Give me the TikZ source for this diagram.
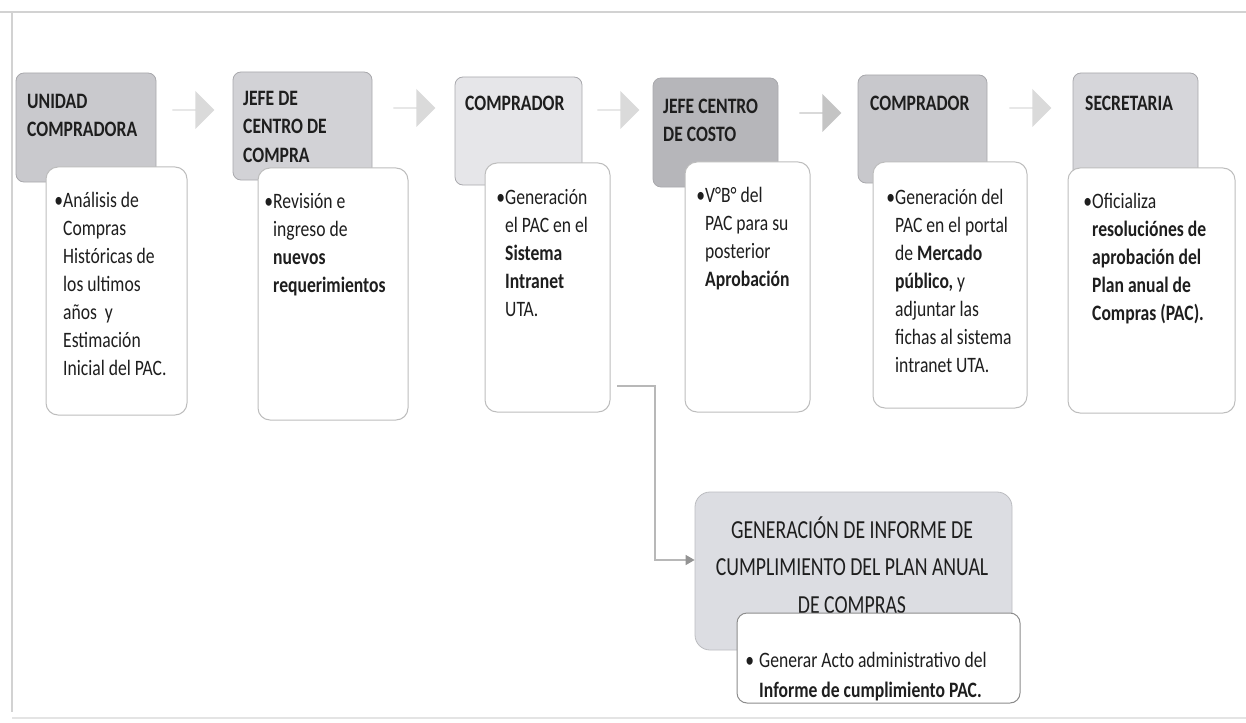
\documentclass[tikz,border=0pt]{standalone}
\usepackage{fontspec}
\setmainfont{Carlito}[FakeStretch=0.8]
\newfontfamily\titlefont{Carlito}[FakeStretch=0.76]
\usetikzlibrary{shapes.arrows,arrows.meta}
\definecolor{txtc}{HTML}{1E1E1E}
\definecolor{hA}{HTML}{C9C9CD}
\definecolor{hB}{HTML}{D2D2D6}
\definecolor{hC}{HTML}{E6E6E9}
\definecolor{hD}{HTML}{B6B6BA}
\definecolor{hE}{HTML}{C8C8CC}
\definecolor{hF}{HTML}{D6D6DA}
\definecolor{hbord}{HTML}{A8A8AC}
\definecolor{tbord}{HTML}{BDBDBD}
\definecolor{arrA}{HTML}{DADADA}
\definecolor{arrB}{HTML}{C4C4C4}
\definecolor{gfill}{HTML}{DCDDE2}
\definecolor{wbord}{HTML}{8C8C8C}
\definecolor{connc}{HTML}{B8B8B8}
\definecolor{framec}{HTML}{D2D2D2}
\newcommand\mystrut{\rule{0pt}{19pt}}
\newcommand\tstrut{\rule{0pt}{24pt}}
\tikzset{
  hdr/.style={draw=hbord, line width=0.8pt, rounded corners=8pt, inner sep=0pt},
  tbox/.style={draw=tbord, line width=1pt, fill=white, rounded corners=12pt, inner sep=0pt},
  txt/.style={anchor=north west, inner sep=0pt, align=left, text=txtc,
    font=\fontsize{22}{28}\selectfont},
  hdrtxt/.style={txt, font=\fontsize{22}{28.5}\selectfont\bfseries},
  barrow/.style={single arrow, draw=none, inner sep=0pt, minimum width=38pt,
    minimum height=42pt, single arrow head extend=7pt},
  conn/.style={draw=connc, line width=1.5pt, -{Triangle[length=9pt,width=10pt,fill=connc!80!black,color=connc!80!black]}},
  frameline/.style={draw=framec, line width=1.2pt}
}
\begin{document}
\begin{tikzpicture}[x=1pt,y=-1pt]
\useasboundingbox (0,0) rectangle (1246,722);
% frame
\draw[frameline] (0,12) -- (1246,12);
\draw[frameline] (12,12) -- (12,712);
\draw[frameline, draw=framec!60] (12,718) -- (1246,718);

% header boxes
\node[hdr, fill=hA, minimum width=140pt, minimum height=109pt] (h1) at (86,127.5) {};
\node[hdr, fill=hB, minimum width=139pt, minimum height=108pt] (h2) at (302.5,126) {};
\node[hdr, fill=hC, minimum width=127pt, minimum height=108pt] (h3) at (518.5,131) {};
\node[hdr, fill=hD, minimum width=125pt, minimum height=109pt] (h4) at (715.5,132.5) {};
\node[hdr, fill=hE, minimum width=129pt, minimum height=108pt] (h5) at (922.5,129) {};
\node[hdr, fill=hF, minimum width=125pt, minimum height=107pt] (h6) at (1135.5,126.5) {};

% header labels
\node[hdrtxt] (h1l) at (27,89) {\mystrut UNIDAD\\COMPRADORA};
\node[hdrtxt] (h2l) at (243,86) {\mystrut JEFE DE\\CENTRO DE\\COMPRA};
\node[hdrtxt] (h3l) at (465,91) {\mystrut COMPRADOR};
\node[hdrtxt] (h4l) at (663,94) {\mystrut JEFE CENTRO\\DE COSTO};
\node[hdrtxt] (h5l) at (870,91) {\mystrut COMPRADOR};
\node[hdrtxt] (h6l) at (1085,91) {\mystrut SECRETARIA};

% block arrows
\node[barrow, fill=arrA] (a1) at (193,110) {};
\node[barrow, fill=arrA] (a2) at (414,108) {};
\node[barrow, fill=arrA] (a3) at (618,110) {};
\node[barrow, fill=arrB] (a4) at (820,113) {};
\node[barrow, fill=arrA] (a5) at (1030,108) {};

% text boxes
\node[tbox, minimum width=141pt, minimum height=248pt] (t1) at (116.5,291) {};
\node[tbox, minimum width=150pt, minimum height=252pt] (t2) at (333,294) {};
\node[tbox, minimum width=125pt, minimum height=249pt] (t3) at (547.5,287.5) {};
\node[tbox, minimum width=125pt, minimum height=250pt] (t4) at (747.5,287) {};
\node[tbox, minimum width=154pt, minimum height=246pt] (t5) at (950,285) {};
\node[tbox, minimum width=167pt, minimum height=245pt] (t6) at (1151.5,290.5) {};

% text box contents
\node[txt] (t1l) at (63,188) {\mystrut\llap{•}Análisis de\\Compras\\Históricas de\\los ultimos\\años~ y\\Estimación\\Inicial del PAC.};
\node[txt] (t2l) at (273,189) {\mystrut\llap{•}Revisión e\\ingreso de\\\textbf{nuevos}\\\textbf{requerimientos}};
\node[txt] (t3l) at (505,185) {\mystrut\llap{•}Generación\\el PAC en el\\\textbf{Sistema}\\\textbf{Intranet}\\UTA.};
\node[txt] (t4l) at (705,183) {\mystrut\llap{•}V°B° del\\PAC para su\\posterior\\\textbf{Aprobación}};
\node[txt] (t5l) at (895,185) {\mystrut\llap{•}Generación del\\PAC en el portal\\de \textbf{Mercado}\\\textbf{público,} y\\adjuntar las\\fichas al sistema\\intranet UTA.};
\node[txt] (t6l) at (1092,189) {\mystrut\llap{•}Oficializa\\\textbf{resoluciónes de}\\\textbf{aprobación del}\\\textbf{Plan anual de}\\\textbf{Compras (PAC).}};

% bottom group
\node[hdr, draw=gfill!85!black, fill=gfill, rounded corners=15pt, minimum width=317pt, minimum height=158pt] (g) at (853.5,571) {};
\node[anchor=north, inner sep=0pt, align=center, text=txtc,
  font=\titlefont\fontsize{26}{37.5}\selectfont] (gl) at (852,514)
  {\tstrut GENERACIÓN DE INFORME DE\\CUMPLIMIENTO DEL PLAN ANUAL\\DE COMPRAS};
\node[tbox, draw=wbord, rounded corners=10pt, minimum width=283pt, minimum height=90pt] (w) at (878.5,658) {};
\node[txt, font=\fontsize{22}{30}\selectfont] (wl) at (759,648)
  {\mystrut\llap{•\hspace{5pt}}Generar Acto administrativo del\\\textbf{Informe de cumplimiento PAC.}};

% connector
\coordinate (c0) at (617,386);
\coordinate (c1) at (655,386);
\coordinate (c2) at (655,560);
\draw[conn] (c0) -- (c1) -- (c2) -- (g.west |- c2);
\end{tikzpicture}
\end{document}
